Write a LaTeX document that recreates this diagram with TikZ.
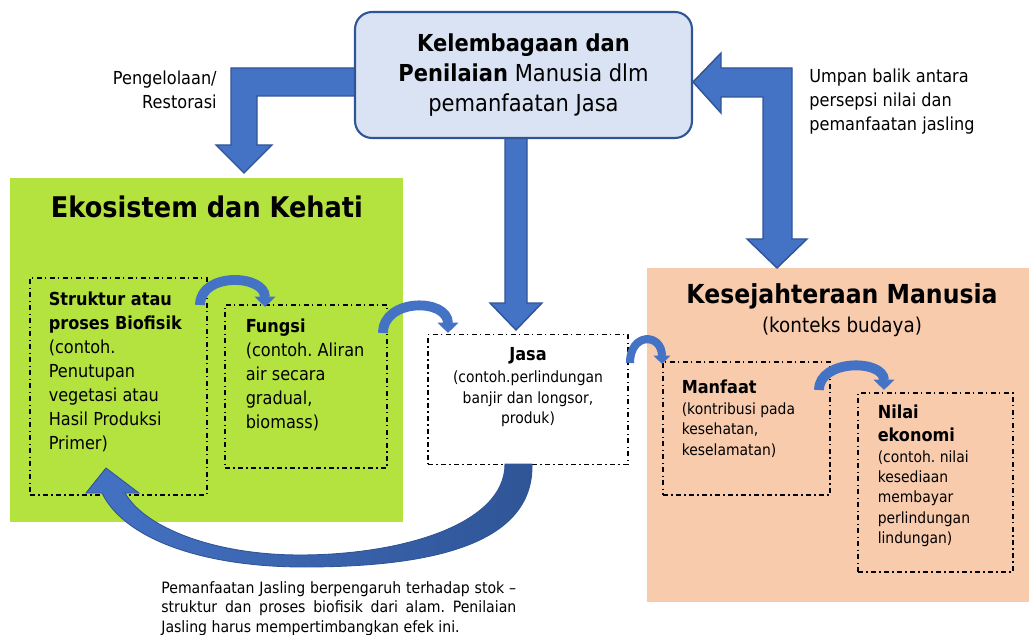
\documentclass[tikz,border=0pt]{standalone}
\usepackage{fontspec}
\setmainfont{DejaVu Sans}[FakeStretch=0.9]
\usetikzlibrary{arrows.meta,positioning,calc}
\definecolor{instfill}{HTML}{DAE3F3}
\definecolor{instline}{HTML}{2F5597}
\definecolor{arrblue}{HTML}{4472C4}
\definecolor{arrdark}{HTML}{2F5597}
\definecolor{ekogreen}{HTML}{B4E340}
\definecolor{kespeach}{HTML}{F8CBAD}
\newcommand\fsz[2]{\fontsize{#1}{#2}\selectfont}
\frenchspacing
\tikzset{
    dashdot box/.style={draw=black, line width=0.7pt, inner sep=0pt,
        dash pattern=on 3pt off 1.8pt on 0.8pt off 1.8pt},
    txt/.style={inner sep=0pt, align=left, anchor=north west},
    blockarrow/.style={fill=arrblue, draw=arrdark, line width=0.8pt, line join=miter},
    bendarrow/.style={draw=arrblue, -{Triangle[width=0pt 2.05, length=0pt 1.05]}},
}
\begin{document}
\begin{tikzpicture}[x=0.02cm,y=-0.02cm]
\useasboundingbox (0,0) rectangle (1029,635);

% the two big areas
\node[fill=ekogreen, inner sep=0pt, minimum width=7.86cm, minimum height=6.88cm] (eko) at (206.5,350) {};
\node[fill=kespeach, inner sep=0pt, minimum width=7.64cm, minimum height=6.68cm] (kes) at (838,435) {};
\node[font=\bfseries\fsz{16.2pt}{19pt}] (ekotitle) at ($(eko.north)+(0.5,29)$) {Ekosistem dan Kehati};
\node[font=\bfseries\fsz{14.9pt}{18pt}] (kestitle) at ($(kes.north)+(4,29)$) {Kesejahteraan Manusia};
\node[font=\fsz{11.6pt}{14pt}] (kesbudaya) at ($(kes.north)+(4,59)$) {(konteks budaya)};

% block arrows out of and into the top box
\draw[blockarrow] (362,68) -- (231,68) -- (231,145) -- (216,145) -- (244,173)
    -- (272,145) -- (257,145) -- (257,96) -- (362,96);
\draw[blockarrow] (505,130) -- (505,303) -- (490,303) -- (516,330)
    -- (542,303) -- (527,303) -- (527,130);
\draw[blockarrow] (693,82) -- (721,53) -- (721,68) -- (792,68) -- (792,239)
    -- (807,239) -- (777,268) -- (747,239) -- (763,239) -- (763,97)
    -- (721,97) -- (721,113) -- cycle;

\node[draw=instline, fill=instfill, line width=1.2pt, rounded corners=0.34cm,
    minimum width=6.74cm, minimum height=2.52cm, inner sep=0pt, align=center,
    font=\fsz{13.3pt}{17.3pt}] (inst) at (523.5,75)
    {\textbf{Kelembagaan dan}\\\textbf{Penilaian} Manusia dlm\\pemanfaatan Jasa};

\node[txt, anchor=north east, align=right, font=\fsz{10.2pt}{13.6pt}] (pengelolaan) at (217,71) {Pengelolaan/\\Restorasi};
\node[txt, font=\fsz{10.2pt}{13.6pt}] (umpan) at (809,69) {Umpan balik antara\\persepsi nilai dan\\pemanfaatan jasling};

% dash-dot boxes
\node[dashdot box, minimum width=3.54cm, minimum height=4.34cm] (struk) at (118.5,386.5) {};
\node[dashdot box, minimum width=3.24cm, minimum height=3.26cm] (fungsi) at (306,386.5) {};
\node[dashdot box, fill=white, minimum width=4cm, minimum height=2.6cm] (jasa) at (528,399.5) {};
\node[dashdot box, minimum width=3.34cm, minimum height=2.66cm] (manfaat) at (746.5,428.5) {};
\node[dashdot box, minimum width=3.1cm, minimum height=3.58cm] (nilai) at (935.5,482.5) {};

\node[txt, font=\fsz{10.2pt}{13.7pt}] (struktxt) at ($(struk.north west)+(19,14)$)
    {\textbf{Struktur atau}\\\textbf{proses Biofisik}\\(contoh.\\Penutupan\\vegetasi atau\\Hasil Produksi\\Primer)};
\node[txt, font=\fsz{10.2pt}{13.7pt}] (fungsitxt) at ($(fungsi.north west)+(21,14)$)
    {\textbf{Fungsi}\\(contoh. Aliran\\air secara\\gradual,\\biomass)};
\node[font=\bfseries\fsz{10.2pt}{12pt}] (jasatitle) at ($(jasa.north)+(0,22)$) {Jasa};
\node[txt, anchor=north, align=center, font=\fsz{8.8pt}{11.6pt}] (jasatxt) at ($(jasa.north)+(0,37)$)
    {(contoh.perlindungan\\banjir dan longsor,\\produk)};
\node[txt, font=\bfseries\fsz{10.2pt}{12pt}] (manfaattitle) at ($(manfaat.north west)+(19,18)$) {Manfaat};
\node[txt, font=\fsz{8.8pt}{11.6pt}] (manfaattxt) at ($(manfaat.north west)+(19,41)$)
    {(kontribusi pada\\kesehatan,\\keselamatan)};
\node[txt, font=\bfseries\fsz{10.2pt}{13pt}] (nilaititle) at ($(nilai.north west)+(20,12)$) {Nilai\\ekonomi};
\node[txt, font=\fsz{8.8pt}{11.5pt}] (nilaitxt) at ($(nilai.north west)+(20,58)$)
    {(contoh. nilai\\kesediaan\\membayar\\perlindungan\\lindungan)};

% big curved arrow from Jasa back to Struktur
\draw[left color=arrblue, right color=arrdark, draw=arrdark, line width=0.5pt]
    (505,464) -- (532,464) .. controls (534,545) and (430,567) .. (304,567)
    .. controls (205,567) and (125,540) .. (102,493) -- (86,493) -- (106,468)
    -- (139,493) -- (125,493) .. controls (145,528) and (215,555) .. (300,555)
    .. controls (400,555) and (505,525) .. (505,464) -- cycle;

\node[txt, text width=202pt, align=justify, font=\fsz{8.9pt}{11.05pt}] (catatan) at (161,581)
    {Pemanfaatan Jasling berpengaruh terhadap stok --\linebreak struktur dan proses biofisik dari alam. Penilaian\linebreak Jasling harus mempertimbangkan efek ini.};

% small bent arrows between the boxes
\coordinate (a1s) at (200,305); \coordinate (a1e) at (265,307);
\coordinate (a2s) at (383,333); \coordinate (a2e) at (448,333);
\coordinate (a3s) at (630,363); \coordinate (a3e) at (662,364);
\coordinate (a4s) at (819,390); \coordinate (a4e) at (884,390);
\foreach \s/\e/\c/\w in {a1s/a1e/33/5.6, a2s/a2e/35/5.6, a3s/a3e/31/4.6, a4s/a4e/31/5.6}
    \draw[bendarrow, line width=\w pt] (\s) .. controls +(0,-\c) and +(0,-\c) .. (\e);

\end{tikzpicture}
\end{document}
